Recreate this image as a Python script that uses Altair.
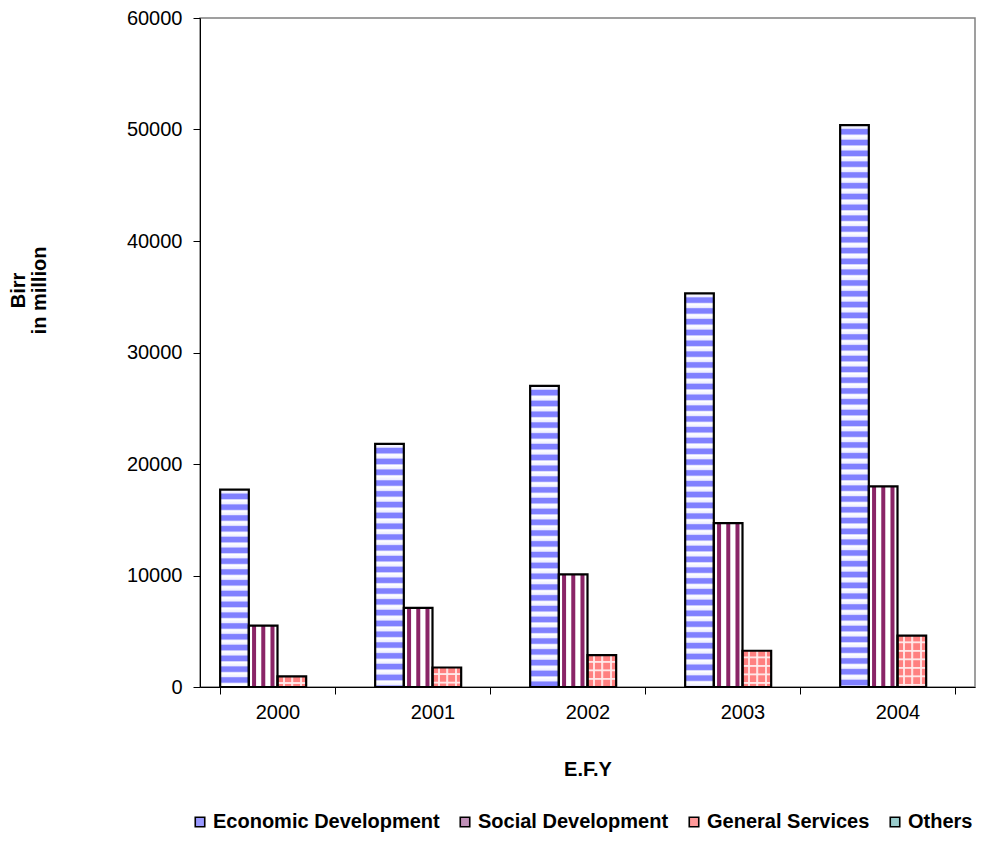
import altair as alt
import pandas as pd

# ---------------- data ----------------
years = ["2000", "2001", "2002", "2003", "2004"]
series = ["Economic Development", "Social Development", "General Services", "Others"]
economic = [17700, 21800, 27000, 35300, 50400]
social = [5500, 7100, 10100, 14700, 18000]
general = [950, 1750, 2850, 3250, 4600]
others = [0, 0, 0, 0, 0]
y_ticks = [0, 10000, 20000, 30000, 40000, 50000, 60000]
legend_colors = ["#9999ff", "#c090b8", "#ff9999", "#99cccc"]

rows = []
for s, vals in zip(series, [economic, social, general, others]):
    for yr, v in zip(years, vals):
        rows.append({"year": yr, "series": s, "value": v})
df = pd.DataFrame(rows)

# ---------------- layout / style ----------------
W, H = 775, 669
YMAX = 60000
FONT = "Liberation Sans"


def hstripes(value, pitch, pattern):
    """vertical gradient giving horizontal stripes of constant pixel pitch"""
    h = max(value / YMAX * H, 1.0)
    f = pitch / h
    stops = []
    k = 0
    while True:
        done = False
        for frac, col in pattern:
            o = (k + frac) * f
            if o > 1:
                done = True
                break
            stops.append(alt.GradientStop(offset=round(o, 5), color=col))
        if done:
            break
        k += 1
    return alt.LinearGradient(gradient="linear", stops=stops, x1=0, x2=0, y1=0, y2=1)


def vstripes(pattern):
    stops = [alt.GradientStop(offset=o, color=c) for o, c in pattern]
    return alt.LinearGradient(gradient="linear", stops=stops, x1=0, x2=1, y1=0, y2=0)


eco_pattern = [(0.0, "#ffffff"), (0.30, "#eeeeff"), (0.42, "#8080ff"),
               (0.82, "#8080ff"), (0.94, "#eeeeff")]
gen_pattern = [(0.0, "#ff8080"), (0.62, "#ff8080"), (0.72, "#ffe6e6"),
               (0.84, "#ffe6e6"), (0.94, "#ff8080")]
D = "#8a2567"
soc_grad = vstripes([(0.0, "#ffffff"), (0.10, "#ffffff"), (0.13, D), (0.24, D), (0.27, "#ffffff"),
                     (0.42, "#ffffff"), (0.45, D), (0.56, D), (0.59, "#ffffff"),
                     (0.74, "#ffffff"), (0.77, D), (0.88, D), (0.91, "#ffffff"), (1.0, "#ffffff")])
T = "rgba(255,255,255,0)"
L = "rgba(255,235,235,0.9)"
gen_vlines = vstripes([(0.0, T), (0.18, T), (0.19, L), (0.25, L), (0.26, T),
                       (0.48, T), (0.49, L), (0.55, L), (0.56, T),
                       (0.78, T), (0.79, L), (0.85, L), (0.86, T), (1.0, T)])

x_enc = alt.X(
    "year:N",
    scale=alt.Scale(domain=years, paddingInner=0.26, paddingOuter=0.13),
    axis=alt.Axis(labelAngle=0, labelFontSize=20, tickSize=7, labelPadding=8,
                  tickBand="extent", title="E.F.Y", titleFontSize=20,
                  titleFontWeight="bold", titleY=88, titleBaseline="alphabetic",
                  grid=False),
)
xo_enc = alt.XOffset("series:N", scale=alt.Scale(domain=series, paddingInner=0, paddingOuter=0))
y_enc = alt.Y(
    "value:Q",
    scale=alt.Scale(domain=[0, YMAX], nice=False),
    axis=alt.Axis(values=y_ticks, format="d", labelFontSize=20, tickSize=7,
                  labelPadding=11, grid=False, title=["Birr", "in million"],
                  titleFontSize=20, titleFontWeight="bold", titleAngle=270,
                  titleX=-176, titleY=272, titleAlign="center",
                  titleBaseline="alphabetic", titleLineHeight=21),
)

base = alt.Chart(df)

legend_layer = base.mark_bar().encode(
    x=x_enc, xOffset=xo_enc, y=y_enc,
    color=alt.Color(
        "series:N",
        scale=alt.Scale(domain=series, range=legend_colors),
        legend=alt.Legend(title=None, orient="none", legendX=-10, legendY=794,
                          direction="horizontal", columns=4, symbolType="square",
                          symbolSize=90, symbolStrokeColor="black",
                          symbolStrokeWidth=1.6, symbolOpacity=1,
                          labelFont=FONT, labelFontSize=20, labelFontWeight="bold",
                          labelColor="black", labelLimit=400, labelOffset=3,
                          columnPadding=15),
    ),
).transform_filter(alt.datum.series != "Others")

layers = [legend_layer]

for yr, v in zip(years, economic):
    layers.append(
        base.mark_bar(fill=hstripes(v, 10.8, eco_pattern)).encode(
            x=x_enc, xOffset=xo_enc, y=y_enc
        ).transform_filter((alt.datum.series == series[0]) & (alt.datum.year == yr))
    )

layers.append(
    base.mark_bar(fill=soc_grad).encode(x=x_enc, xOffset=xo_enc, y=y_enc)
    .transform_filter(alt.datum.series == series[1])
)

for yr, v in zip(years, general):
    layers.append(
        base.mark_bar(fill=hstripes(v, 8.5, gen_pattern)).encode(
            x=x_enc, xOffset=xo_enc, y=y_enc
        ).transform_filter((alt.datum.series == series[2]) & (alt.datum.year == yr))
    )

layers.append(
    base.mark_bar(fill=gen_vlines).encode(x=x_enc, xOffset=xo_enc, y=y_enc)
    .transform_filter(alt.datum.series == series[2])
)

layers.append(
    base.mark_bar(fill="white", fillOpacity=0, stroke="black", strokeWidth=2.2).encode(
        x=x_enc, xOffset=xo_enc, y=y_enc
    ).transform_filter(alt.datum.series != "Others")
)

chart = alt.layer(*layers).properties(
    width=W, height=H,
    autosize=alt.AutoSizeParams(type="none"),
    padding={"left": 192, "top": 10, "right": 1, "bottom": 145},
).configure_view(
    stroke="#808080", strokeWidth=1.5
).configure_axis(
    domainColor="black", tickColor="black", labelColor="black", titleColor="black",
    labelFont=FONT, titleFont=FONT, domainWidth=1, tickWidth=1
)

chart.save("out.html", embed_options={"renderer": "svg", "actions": False})
